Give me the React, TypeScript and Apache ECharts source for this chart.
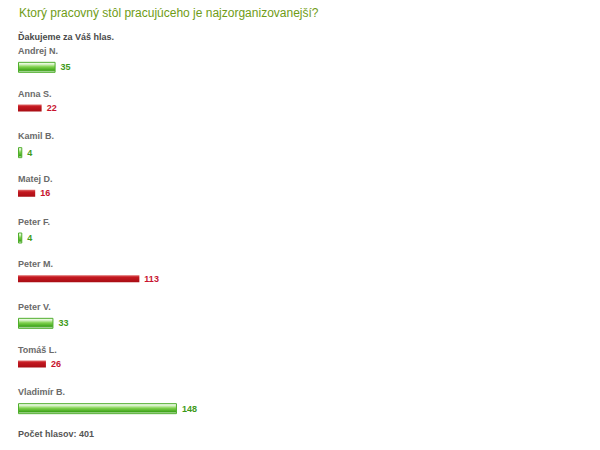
import React, { useEffect, useRef } from "react";
import * as echarts from "echarts";

const titleText = "Ktorý pracovný stôl pracujúceho je najzorganizovanejší?";
const thanksText = "Ďakujeme za Váš hlas.";
const names = ["Andrej N.", "Anna S.", "Kamil B.", "Matej D.", "Peter F.", "Peter M.", "Peter V.", "Tomáš L.", "Vladimír B."];
const votes = [35, 22, 4, 16, 4, 113, 33, 26, 148];
const barKind = ["green", "red", "green", "red", "green", "red", "green", "red", "green"];
const totalLabel = "Počet hlasov: ";

const FONT = "'Liberation Sans', Arial, sans-serif";

export default function App() {
  const ref = useRef<HTMLDivElement>(null);
  useEffect(() => {
    const chart = echarts.init(ref.current!, null, { renderer: "svg" });
    const total = votes.reduce((a, b) => a + b, 0);
    const greenData = votes.map((v, i) => (barKind[i] === "green" ? v : "-"));
    const redData = votes.map((v, i) => (barKind[i] === "red" ? v : "-"));
    chart.setOption({
      animation: false,
      backgroundColor: "#ffffff",
      title: {
        text: titleText,
        left: 14,
        top: 2,
        textStyle: { fontFamily: FONT, fontSize: 12, fontWeight: "normal", color: "#6f9c16" },
      },
      graphic: [
        {
          type: "text",
          left: 18,
          top: 32,
          style: { text: thanksText, font: `bold 9px ${FONT}`, fill: "#4a4a4a" },
        },
        {
          type: "text",
          left: 18,
          top: 429,
          style: { text: totalLabel + total, font: `bold 9px ${FONT}`, fill: "#555555" },
        },
      ],
      grid: { left: 18, right: 45, top: 44, bottom: 22 },
      xAxis: { type: "value", min: 0, max: 500, show: false },
      yAxis: {
        type: "category",
        data: names,
        inverse: true,
        axisLine: { show: false },
        axisTick: { show: false },
        splitLine: { show: false },
        axisLabel: {
          inside: true,
          margin: 0,
          align: "left",
          verticalAlign: "bottom",
          padding: [0, 0, 10, 0],
          fontFamily: FONT,
          fontSize: 9,
          fontWeight: "bold",
          color: "#6a6a6a",
        },
      },
      series: [
        {
          type: "bar",
          data: greenData,
          barWidth: 11,
          barGap: "-100%",
          itemStyle: {
            borderColor: "#4fae2c",
            borderWidth: 1,
            color: new echarts.graphic.LinearGradient(0, 0, 0, 1, [
              { offset: 0, color: "#ffffff" },
              { offset: 0.2, color: "#d6f2c4" },
              { offset: 0.45, color: "#7fd14c" },
              { offset: 0.8, color: "#3fa51a" },
              { offset: 1, color: "#ffffff" },
            ]),
          },
          label: {
            show: true,
            position: "right",
            distance: 5,
            fontFamily: FONT,
            fontSize: 9,
            fontWeight: "bold",
            color: "#3e9a1a",
          },
        },
        {
          type: "bar",
          data: redData,
          barWidth: 7,
          barGap: "-100%",
          itemStyle: {
            color: new echarts.graphic.LinearGradient(0, 0, 0, 1, [
              { offset: 0, color: "#e06a6a" },
              { offset: 0.3, color: "#c41820" },
              { offset: 1, color: "#a80d14" },
            ]),
          },
          label: {
            show: true,
            position: "right",
            distance: 5,
            fontFamily: FONT,
            fontSize: 9,
            fontWeight: "bold",
            color: "#c8122e",
          },
        },
      ],
    });
    return () => chart.dispose();
  }, []);
  return <div ref={ref} style={{ position: "fixed", left: 0, top: 0, width: 600, height: 450 }} />;
}
